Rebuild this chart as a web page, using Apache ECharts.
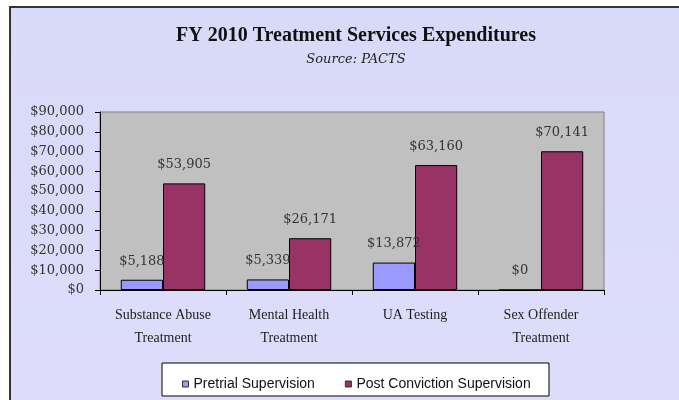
<!DOCTYPE html>
<html><head><meta charset="utf-8">
<script src="https://cdn.jsdelivr.net/npm/echarts@6/dist/echarts.min.js"></script>
<style>html,body{margin:0;padding:0;background:#fff}#c{width:679px;height:400px}</style>
</head><body><div id="c"></div>
<script>
var categories = ['Substance Abuse\nTreatment', 'Mental Health\nTreatment', 'UA Testing', 'Sex Offender\nTreatment'];
var pretrial = [5188, 5339, 13872, 0];
var postConviction = [53905, 26171, 63160, 70141];
var seriesNames = ['Pretrial Supervision', 'Post Conviction Supervision'];
var titleText = 'FY 2010 Treatment Services Expenditures';
var subtitleText = 'Source: PACTS';

function money(v){ return '$' + v.toLocaleString('en-US'); }

var chart = echarts.init(document.getElementById('c'));
var labelStyle = {
  show: true, position: 'top', distance: 12,
  fontFamily: 'DejaVu Serif', fontSize: 13, color: '#333',
  formatter: function(p){ return money(p.value); }
};
chart.setOption({
  animation: false,
  backgroundColor: '#ffffff',
  graphic: [
    { type: 'rect', z: -10, shape: { x: 10, y: 7, width: 700, height: 420 },
      style: { fill: {type:'linear',x:0,y:0,x2:0,y2:1,colorStops:[{offset:0,color:'#d9d9f8'},{offset:1,color:'#dedefc'}]}, stroke: '#333', lineWidth: 2 } },
    { type: 'rect', z: -5, shape: { x: 162, y: 363, width: 387, height: 33 },
      style: { fill: '#ffffff', stroke: '#000', lineWidth: 1 } }
  ],
  title: {
    text: titleText, subtext: subtitleText, left: 351, textAlign: 'center', top: 21, itemGap: 7,
    textStyle: { fontFamily: 'Liberation Serif', fontWeight: 'bold', fontSize: 20, color: '#111' },
    subtextStyle: { fontFamily: 'DejaVu Serif', fontStyle: 'italic', fontSize: 13, color: '#222' }
  },
  legend: {
    data: seriesNames, left: 177, top: 372, orient: 'horizontal',
    itemWidth: 6, itemHeight: 6, itemGap: 30, icon: 'rect',
    itemStyle: { borderColor: '#333', borderWidth: 1 },
    textStyle: { fontFamily: 'Liberation Sans', fontSize: 14, color: '#111' }
  },
  grid: { left: 100, right: 75, top: 112, bottom: 110, show: true, backgroundColor: '#c0c0c0', borderColor: '#808080', borderWidth: 1 },
  xAxis: {
    type: 'category', data: categories,
    axisLine: { lineStyle: { color: '#000', width: 1 } },
    axisTick: { show: true, alignWithLabel: false, length: 5, lineStyle: { color: '#000' } },
    axisLabel: { fontFamily: 'Liberation Serif', fontSize: 14, color: '#222', lineHeight: 23, margin: 14, interval: 0 }
  },
  yAxis: {
    type: 'value', min: 0, max: 90000, interval: 10000,
    axisLine: { show: true, lineStyle: { color: '#000', width: 1 } },
    axisTick: { show: true, length: 5, lineStyle: { color: '#000' } },
    splitLine: { show: false },
    axisLabel: { fontFamily: 'DejaVu Serif', fontSize: 13, color: '#333', margin: 16, formatter: function(v){ return money(v); } }
  },
  series: [
    { name: seriesNames[0], type: 'bar', data: pretrial, barGap: '0%', barCategoryGap: '33%',
      itemStyle: { color: '#9999ff', borderColor: '#000', borderWidth: 1 }, label: labelStyle },
    { name: seriesNames[1], type: 'bar', data: postConviction,
      itemStyle: { color: '#993366', borderColor: '#000', borderWidth: 1 }, label: labelStyle }
  ]
});
</script></body></html>
